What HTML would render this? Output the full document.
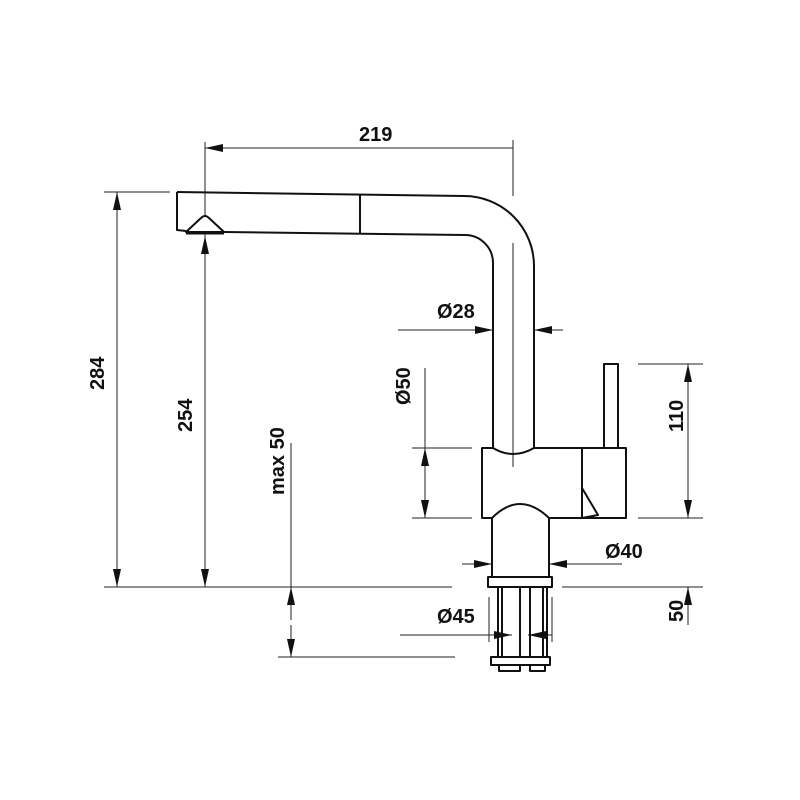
<!DOCTYPE html>
<html><head><meta charset="utf-8"><style>
html,body{margin:0;padding:0;background:#fff}
svg{display:block}
text{font-family:"Liberation Sans",Arial,sans-serif;font-weight:bold;font-size:20px;fill:#111}
</style></head><body>
<svg width="800" height="800" viewBox="0 0 800 800" xmlns="http://www.w3.org/2000/svg">
<defs>
<marker id="a" viewBox="0 0 18 18" refX="18" refY="9" markerWidth="18" markerHeight="18" orient="auto-start-reverse" markerUnits="userSpaceOnUse">
<path d="M0,5 L18,9 L0,13 z" fill="#111"/></marker>
</defs>
<g stroke="#222" stroke-width="1" fill="none">
<line x1="205" y1="142" x2="205" y2="587"/>
<line x1="513" y1="140" x2="513" y2="196"/>
<line x1="104" y1="192" x2="170" y2="192"/>
<line x1="104" y1="587" x2="452" y2="587"/>
<line x1="278" y1="657" x2="455" y2="657"/>
<line x1="412" y1="448" x2="472" y2="448"/>
<line x1="412" y1="518" x2="472" y2="518"/>
<line x1="638" y1="364" x2="703" y2="364"/>
<line x1="638" y1="518" x2="703" y2="518"/>
<line x1="562" y1="587" x2="703" y2="587"/>
<line x1="489" y1="597" x2="489" y2="642"/>
<line x1="552" y1="597" x2="552" y2="642"/>
<line x1="513" y1="243" x2="513" y2="467"/>
<line x1="205" y1="148" x2="513" y2="148" marker-start="url(#a)"/>
<line x1="117" y1="192" x2="117" y2="587" marker-start="url(#a)" marker-end="url(#a)"/>
<line x1="205" y1="236" x2="205" y2="260" marker-start="url(#a)"/>
<line x1="205" y1="587" x2="205" y2="560" marker-start="url(#a)"/>
<line x1="291" y1="443" x2="291" y2="587"/>
<line x1="291" y1="587" x2="291" y2="620" marker-start="url(#a)"/>
<line x1="291" y1="657" x2="291" y2="625" marker-start="url(#a)"/>
<line x1="425" y1="368" x2="425" y2="518"/>
<line x1="425" y1="448" x2="425" y2="480" marker-start="url(#a)"/>
<line x1="425" y1="518" x2="425" y2="485" marker-start="url(#a)"/>
<line x1="688" y1="364" x2="688" y2="518" marker-start="url(#a)" marker-end="url(#a)"/>
<line x1="688" y1="587" x2="688" y2="625" marker-start="url(#a)"/>
<line x1="398" y1="330" x2="493" y2="330" marker-end="url(#a)"/>
<line x1="563" y1="330" x2="534" y2="330" marker-end="url(#a)"/>
<line x1="462" y1="564" x2="492" y2="564" marker-end="url(#a)"/>
<line x1="622" y1="564" x2="549" y2="564" marker-end="url(#a)"/>
<line x1="400" y1="635" x2="512" y2="635" marker-end="url(#a)"/>
<line x1="552" y1="635" x2="528" y2="635" marker-end="url(#a)"/>
</g>
<g stroke="#111" stroke-width="2" fill="none" stroke-linejoin="round">
<path d="M177,192 L464,196 A70,70 0 0 1 534,266 L534,448"/>
<path d="M177,192 L177,230 L186,231"/>
<path d="M224,232 L465,235 A28,28 0 0 1 493,263 L493,448"/>
<line x1="360" y1="195" x2="360" y2="233"/>
<path d="M186,232 L201,218 Q205,214 209,218 L224,232 Z" fill="#fff"/>
<line x1="186" y1="233" x2="224" y2="233" stroke-width="3"/>
<path d="M482,448 L493,448 Q513,460 534,448 L582,448 L582,518 L549,518 Q520,490 492,518 L482,518 Z"/>
<rect x="582" y="448" width="44" height="70"/>
<rect x="604" y="364" width="14" height="84"/>
<path d="M582,488 L598,515 L582,518"/>
<path d="M492,518 L492,577 M549,518 L549,577"/>
<rect x="488" y="577" width="64" height="10"/>
<path d="M498,587 V657 M502,587 V657 M520,587 V657 M530,587 V657 M543,587 V657 M547,587 V657"/>
<rect x="491" y="657" width="59" height="8"/>
<rect x="499" y="665" width="21" height="6"/>
<rect x="530" y="665" width="15" height="6"/>
</g>
<text x="359" y="141">219</text>
<text x="437" y="318">Ø28</text>
<text x="605" y="558">Ø40</text>
<text x="437" y="623">Ø45</text>
<text transform="translate(104,390) rotate(-90)">284</text>
<text transform="translate(192,432) rotate(-90)">254</text>
<text transform="translate(284,495) rotate(-90)">max 50</text>
<text transform="translate(410,405) rotate(-90)">Ø50</text>
<text transform="translate(683,432) rotate(-90)">110</text>
<text transform="translate(683,622) rotate(-90)">50</text>
</svg>
</body></html>
